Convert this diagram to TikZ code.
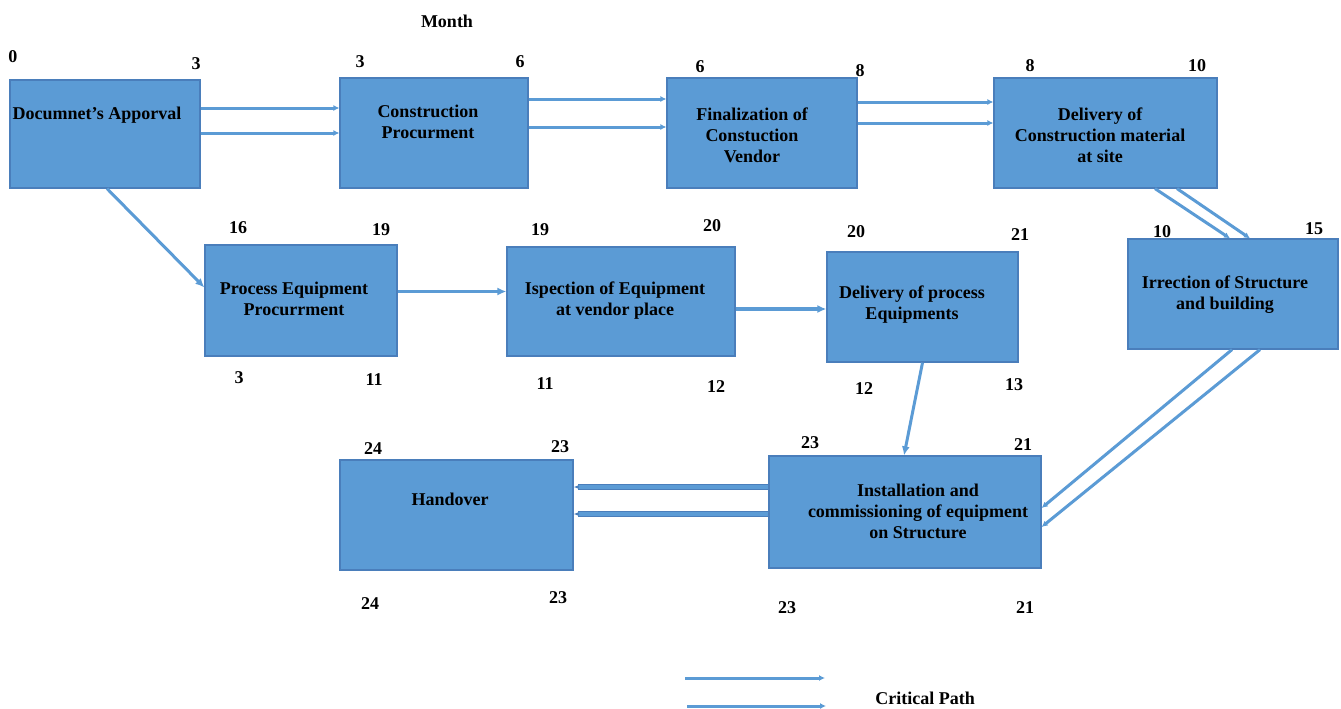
\documentclass[tikz,border=0pt]{standalone}
\usepackage{fontspec}
\setmainfont{Liberation Serif}
\usetikzlibrary{arrows.meta}
\definecolor{boxfill}{HTML}{5B9BD5}
\definecolor{boxline}{HTML}{4A7EBB}
\definecolor{linkblue}{HTML}{5B9BD5}
\definecolor{linkdark}{HTML}{4A7EBB}
\begin{document}
\begin{tikzpicture}[x=1pt,y=-1pt,
  every node/.style={font=\fontsize{18}{21}\selectfont\bfseries},
  task/.style={draw=boxline,line width=1.2pt,fill=boxfill,inner sep=0pt},
  lbl/.style={align=center,inner sep=0pt},
  num/.style={inner sep=0pt},
  crit/.style={draw=linkblue,line width=3pt,-{Latex[length=6pt,width=6pt]}},
  single/.style={draw=linkblue,line width=3pt,-{Latex[length=9pt,width=8pt]}},
  hollow/.style={draw=linkdark,line width=1pt,double=linkblue,double distance=4.5pt,-{Latex[length=5pt,width=4pt]}}]
\useasboundingbox (0,0) rectangle (1341,709);
% boxes
\node[task,minimum width=190pt,minimum height=108pt] (A) at (105,134) {};
\node[task,minimum width=188pt,minimum height=110pt] (B) at (434,133) {};
\node[task,minimum width=190pt,minimum height=110pt] (C) at (762,133) {};
\node[task,minimum width=223pt,minimum height=110pt] (D) at (1105.5,133) {};
\node[task,minimum width=210pt,minimum height=110pt] (E) at (1233,294) {};
\node[task,minimum width=192pt,minimum height=111pt] (F) at (301,300.5) {};
\node[task,minimum width=228pt,minimum height=109pt] (G) at (621,301.5) {};
\node[task,minimum width=191pt,minimum height=110pt] (H) at (922.5,307) {};
\node[task,minimum width=272pt,minimum height=112pt] (I) at (905,512) {};
\node[task,minimum width=233pt,minimum height=110pt] (J) at (456.5,515) {};
% texts
\node[lbl] (tA) at (97,115) {Documnet's Apporval};
\node[lbl] (tB) at (428,122) {Construction\\Procurment};
\node[lbl] (tC) at (752,135) {Finalization of\\Constuction\\Vendor};
\node[lbl] (tD) at (1100,135) {Delivery of\\Construction material\\at site};
\node[lbl] (tE) at (1225,295) {Irrection of Structure\\and building};
\node[lbl] (tF) at (294,299) {Process Equipment\\Procurrment};
\node[lbl] (tG) at (615,301) {Ispection of Equipment\\at vendor place};
\node[lbl] (tH) at (912,305) {Delivery of process\\Equipments};
\node[lbl] (tI) at (918,511) {Installation and\\commissioning of equipment\\on Structure};
\node[lbl] (tJ) at (450,499) {Handover};
% numbers
\node[num] (month) at (447,21) {Month};
\node[num] (nA1) at (13,57) {0};
\node[num] (nA2) at (196,64) {3};
\node[num] (nB1) at (360,62) {3};
\node[num] (nB2) at (520,62) {6};
\node[num] (nC1) at (700,67) {6};
\node[num] (nC2) at (860,71) {8};
\node[num] (nD1) at (1030,66) {8};
\node[num] (nD2) at (1197,66) {10};
\node[num] (nE1) at (1162,232) {10};
\node[num] (nE2) at (1314,229) {15};
\node[num] (nF1) at (238,228) {16};
\node[num] (nF2) at (381,230) {19};
\node[num] (nF3) at (239,378) {3};
\node[num] (nF4) at (374,380) {11};
\node[num] (nG1) at (540,230) {19};
\node[num] (nG2) at (712,226) {20};
\node[num] (nG3) at (545,384) {11};
\node[num] (nG4) at (716,387) {12};
\node[num] (nH1) at (856,232) {20};
\node[num] (nH2) at (1020,235) {21};
\node[num] (nH3) at (864,389) {12};
\node[num] (nH4) at (1014,385) {13};
\node[num] (nI1) at (810,443) {23};
\node[num] (nI2) at (1023,445) {21};
\node[num] (nI3) at (787,608) {23};
\node[num] (nI4) at (1025,608) {21};
\node[num] (nJ1) at (373,449) {24};
\node[num] (nJ2) at (560,447) {23};
\node[num] (nJ3) at (370,604) {24};
\node[num] (nJ4) at (558,598) {23};
% critical path connectors
\draw[crit] ([yshift=26pt]A.east) -- ([yshift=26pt]A.east -| B.west);
\draw[crit] ([yshift=1pt]A.east) -- ([yshift=1pt]A.east -| B.west);
\draw[crit] ([yshift=34pt]B.east) -- ([yshift=34pt]B.east -| C.west);
\draw[crit] ([yshift=6pt]B.east) -- ([yshift=6pt]B.east -| C.west);
\draw[crit] ([yshift=31pt]C.east) -- ([yshift=31pt]C.east -| D.west);
\draw[crit] ([yshift=10pt]C.east) -- ([yshift=10pt]C.east -| D.west);
\draw[crit] ([xshift=49.5pt]D.south) -- ([xshift=-3pt]E.north);
\draw[crit] ([xshift=71.5pt]D.south) -- ([xshift=17pt]E.north);
\draw[crit] ([xshift=-1pt]E.south) -- ([yshift=4pt]I.east);
\draw[crit] ([xshift=27pt]E.south) -- ([yshift=-15pt]I.east);
\draw[hollow] ([yshift=25pt]I.west) -- ([yshift=25pt]I.west -| J.east);
\draw[hollow] ([yshift=-2pt]I.west) -- ([yshift=-2pt]I.west -| J.east);
% other connectors
\draw[single] ([xshift=2pt]A.south) -- ([yshift=13pt]F.west);
\draw[single] ([yshift=9pt]F.east) -- ([yshift=9pt]F.east -| G.west);
\draw[single,line width=4pt] ([yshift=-7.5pt]G.east) -- ([yshift=-7.5pt]G.east -| H.west);
\draw[single] (H.south) -- ([xshift=-1pt]I.north);
% legend
\coordinate (l1s) at (685,678);
\coordinate (l1e) at (825,678);
\coordinate (l2s) at (687,706);
\coordinate (l2e) at (826,706);
\draw[crit] (l1s) -- (l1e);
\draw[crit] (l2s) -- (l2e);
\node[num] (legend) at (925,698) {Critical Path};
\end{tikzpicture}
\end{document}
